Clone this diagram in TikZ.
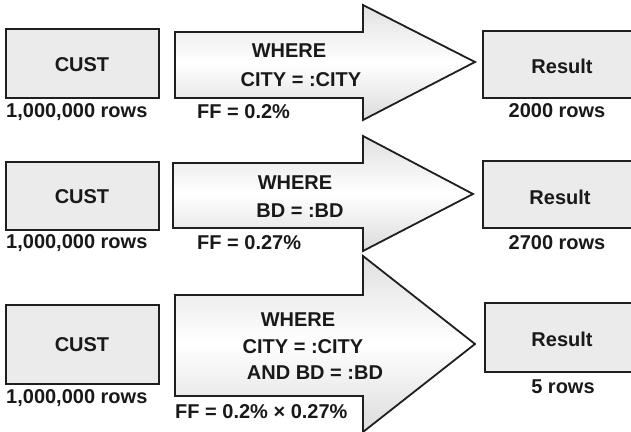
\documentclass[tikz,border=0pt]{standalone}
\usepackage{fontspec}
\setmainfont{Liberation Sans}
\begin{document}
\begin{tikzpicture}[x=1pt,y=-1pt,
  tabbox/.style={draw=black!88,line width=2pt,fill=black!8},
  filterarrow/.style={draw=black!88,line width=1.8pt,line join=miter,
    top color=black!12,bottom color=black!14,middle color=white},
  lbl/.style={inner sep=0pt,text=black!90,font=\fontsize{20}{24}\selectfont\bfseries},
]
\useasboundingbox (0,0) rectangle (631,431);
\clip (0,0) rectangle (631,431);

% ---- row 1: CITY predicate ----
\draw[tabbox] (6,29) rectangle (159,98);
\node[lbl] (cust1) at (82,65) {CUST};
\node[lbl,anchor=west] (rows1) at (6,112) {1,000,000 rows};
\draw[filterarrow] (175,32) -- (363,32) -- (363,5) -- (475,62) -- (363,120) -- (363,98) -- (175,98) -- cycle;
\node[lbl] (where1) at (289,51) {WHERE};
\node[lbl] (pred1) at (301,80) {CITY = :CITY};
\node[lbl,anchor=west] (ff1) at (197,112) {FF = 0.2\%};
\draw[tabbox] (483,31) rectangle (640,98);
\node[lbl] (res1) at (562,66) {Result};
\node[lbl] (out1) at (557,111) {2000 rows};

% ---- row 2: BD predicate ----
\draw[tabbox] (6,162) rectangle (159,230);
\node[lbl] (cust2) at (82,197) {CUST};
\node[lbl,anchor=west] (rows2) at (6,243) {1,000,000 rows};
\draw[filterarrow] (173,163) -- (363,163) -- (363,136) -- (473,194) -- (363,251) -- (363,228) -- (173,228) -- cycle;
\node[lbl] (where2) at (295,183) {WHERE};
\node[lbl] (pred2) at (300,211) {BD = :BD};
\node[lbl,anchor=west] (ff2) at (197,243) {FF = 0.27\%};
\draw[tabbox] (483,161) rectangle (640,228);
\node[lbl] (res2) at (560,197) {Result};
\node[lbl] (out2) at (557,243) {2700 rows};

% ---- row 3: both predicates ----
\draw[tabbox] (6,305) rectangle (159,384);
\node[lbl] (cust3) at (82,345) {CUST};
\node[lbl,anchor=west] (rows3) at (6,398) {1,000,000 rows};
\draw[filterarrow] (175,295) -- (363,295) -- (363,256) -- (475,344) -- (363,432) -- (363,396) -- (175,396) -- cycle;
\node[lbl] (where3) at (298,320) {WHERE};
\node[lbl] (pred3a) at (303,347) {CITY = :CITY};
\node[lbl] (pred3b) at (315,373) {AND BD = :BD};
\node[lbl,anchor=west] (ff3) at (175,412) {FF = 0.2\% × 0.27\%};
\draw[tabbox] (485,303) rectangle (640,372);
\node[lbl] (res3) at (562,339) {Result};
\node[lbl] (out3) at (563,387) {5 rows};
\end{tikzpicture}
\end{document}
